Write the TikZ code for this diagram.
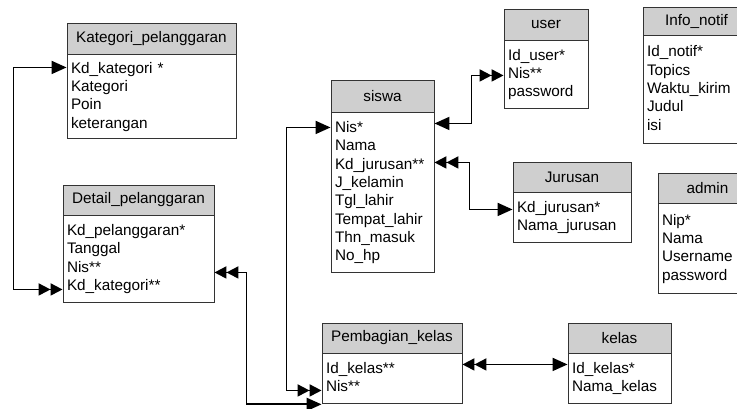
\documentclass[tikz,border=0pt]{standalone}
\usepackage{fontspec}
\setmainfont{Liberation Sans}
\usetikzlibrary{positioning,arrows.meta}
\tikzset{
 hd/.style
  = {rectangle, draw=black!80, fill=gray!38, line width=0.9pt, inner sep=0pt,
     minimum height=30pt, text centered},
 bd/.style
  = {rectangle, draw=black!80, fill=white, line width=0.9pt, inner xsep=4pt,
     inner ysep=0pt, align=left, below=0pt of #1,
     execute at begin node=\strut, execute at end node=\strut},
 l/.style
  = {draw, line width=1.8pt},
 sgl/.tip = {Triangle[length=15pt, width=13pt]},
 dbl/.tip = {Triangle[length=12pt, width=12pt] Triangle[length=12pt, width=12pt]},
}

\begin{document}
\begin{tikzpicture}[x=1pt, y=-1pt,
    font=\fontsize{15.3}{18.3}\selectfont]

\useasboundingbox (0,0) rectangle (737,408);
\clip (0,0) rectangle (737,408);

% Kategori_pelanggaran
\node[hd, minimum width=169pt, minimum height=31pt] (kp) at (151.5,38.5) {Kategori\_pelanggaran};
\node[bd=kp, text width=161pt, minimum height=84pt] (kp-b) {Kd\_kategori *\\Kategori\\Poin\\keterangan};

% Detail_pelanggaran
\node[hd, minimum width=151pt] (dp) at (138.5,200) {Detail\_pelanggaran};
\node[bd=dp, text width=143pt, minimum height=87pt] (dp-b) {Kd\_pelanggaran*\\Tanggal\\Nis**\\Kd\_kategori**};

% siswa
\node[hd, minimum width=103pt, minimum height=32pt] (sw) at (382.5,96) {siswa};
\node[bd=sw, text width=95pt, minimum height=160pt] (sw-b) {Nis*\\Nama\\Kd\_jurusan**\\J\_kelamin\\Tgl\_lahir\\Tempat\_lahir\\Thn\_masuk\\No\_hp};

% user
\node[hd, minimum width=84pt, minimum height=31pt] (us) at (546,24.5) {user};
\node[bd=us, text width=76pt, minimum height=68pt] (us-b) {Id\_user*\\Nis**\\password};

% Jurusan
\node[hd, minimum width=118pt] (jr) at (572,177) {Jurusan};
\node[bd=jr, text width=110pt, minimum height=50pt] (jr-b) {Kd\_jurusan*\\Nama\_jurusan};

% Info_notif
\node[hd, minimum width=107pt, minimum height=28pt] (inf) at (696.5,21) {Info\_notif};
\node[bd=inf, text width=99pt, minimum height=108pt] (inf-b) {Id\_notif*\\Topics\\Waktu\_kirim\\Judul\\isi};

% admin
\node[hd, minimum width=99pt] (adm) at (707.5,188) {admin};
\node[bd=adm, text width=91pt, minimum height=90pt] (adm-b) {Nip*\\Nama\\Username\\password};

% Pembagian_kelas
\node[hd, minimum width=140pt] (pb) at (392,338) {Pembagian\_kelas};
\node[bd=pb, text width=132pt, minimum height=50pt] (pb-b) {Id\_kelas**\\Nis**};

% kelas
\node[hd, minimum width=103pt] (kl) at (619.5,338) {kelas};
\node[bd=kl, text width=95pt, minimum height=50pt] (kl-b) {Id\_kelas*\\Nama\_kelas};

% Relations
\draw[l, sgl-dbl] ([yshift=-13pt]kp-b.north west) -- ++(-53,0) |- ([yshift=-74pt]dp-b.north west);
\draw[l, dbl-sgl] ([yshift=-57pt]dp-b.north east) -- ++(32,0) |- (pb-b.south west);
\draw[l, sgl-dbl] ([yshift=-15pt]sw-b.north west) -- ++(-44,0) |- ([yshift=-37pt]pb-b.north west);
\draw[l, sgl-dbl] ([yshift=-11pt]sw-b.north east) -- ++(37,0) |- ([yshift=-35pt]us-b.north west);
\draw[l, dbl-sgl] ([yshift=-50pt]sw-b.north east) -- ++(35,0) |- ([yshift=-17pt]jr-b.north west);
\draw[l, dbl-sgl] ([yshift=-11pt]pb-b.north east) -- ([yshift=-11pt]kl-b.north west);

\end{tikzpicture}
\end{document}
